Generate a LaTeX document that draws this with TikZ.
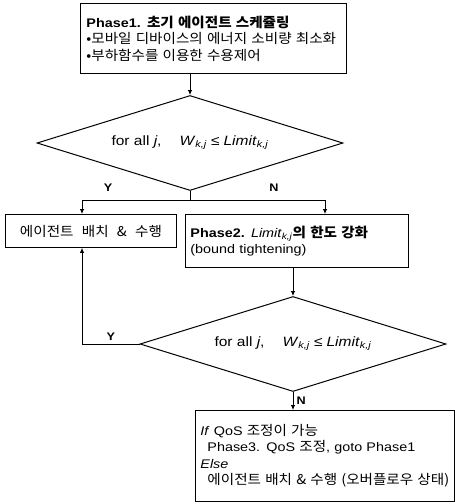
\documentclass[tikz,border=0pt]{standalone}
\usepackage{fontspec}
\setmainfont{Liberation Sans}[FakeStretch=1.15]
\newfontfamily\krfont{Noto Sans CJK KR}[FakeStretch=1.08]
\newcommand{\ko}[1]{{\krfont\fontsize{13.5}{16.5}\selectfont #1}}
\newcommand{\cond}{for all \textit{j},\hspace{18pt}\textit{W}\textsubscript{\textit{k,j}}\hspace{4pt}≤\hspace{4pt}\textit{Limit}\textsubscript{\textit{k,j}}}
\usetikzlibrary{shapes.geometric,arrows.meta}

\begin{document}
\begin{tikzpicture}[x=1pt,y=-1pt,
  box/.style={draw,line width=0.9pt,inner ysep=0pt,anchor=north west,align=left,font=\fontsize{12.5}{16.5}\selectfont},
  test/.style={draw,diamond,line width=1pt,minimum width=306pt,minimum height=95pt,inner sep=0pt},
  cond/.style={font=\fontsize{13.5}{16}\selectfont},
  arr/.style={line width=0.8pt,-{Latex[length=5pt,width=4.5pt]}},
  lbl/.style={font=\bfseries\fontsize{11}{12}\selectfont}]
\useasboundingbox (0,0) rectangle (455,504);

% boxes
\node[box,inner xsep=6pt,text width=254pt,minimum height=70pt] (phase1) at (80,3)
  {\mbox{\textbf{Phase1. \ko{\bfseries 초기 에이전트 스케쥴링}}}\\
   \mbox{\ko{•모바일 디바이스의 에너지 소비량 최소화}}\\
   \mbox{\ko{•부하함수를 이용한 수용제어}}};
\node[test,label={[cond]center:\cond}] (test1) at (190,143) {};
\node[box,inner xsep=0pt,minimum width=171pt,minimum height=33pt] (place) at (5,214)
  {\ko{에이전트\hspace{5pt} 배치\hspace{5pt} \&\hspace{5pt} 수행}};
\node[box,inner xsep=5pt,text width=213pt,minimum height=53pt] (tight) at (185,214)
  {\mbox{\textbf{Phase2.} \textit{Limit}\textsubscript{\textit{k,j}}\ko{\bfseries 의 한도 강화}}\\
   (bound tightening)};
\node[test,label={[cond]center:\cond}] (test2) at (293,344) {};
\node[box,inner xsep=5pt,text width=249pt,minimum height=91pt] (final) at (195,410)
  {\mbox{\textit{If} QoS \ko{조정이 가능}}\\
   \mbox{\hspace*{7pt}Phase3. QoS \ko{조정}, goto Phase1}\\
   \textit{Else}\\
   \mbox{\hspace*{7pt}\ko{에이전트 배치 \& 수행 (오버플로우 상태)}}};

% connectors
\coordinate (ysplit) at (82,200);
\coordinate (nsplit) at (325,200);
\draw[arr] (phase1.south -| test1.north) -- (test1.north);
\draw[line width=0.8pt] (test1.south) -- (test1.south |- ysplit);
\draw[line width=0.8pt] (ysplit) -- (nsplit);
\draw[arr] (ysplit) -- (ysplit |- place.north);
\draw[arr] (nsplit) -- (nsplit |- tight.north);
\node[lbl] (y1) at (108,188) {Y};
\node[lbl] (n1) at (274,188) {N};
\draw[arr] (tight.south -| test2.north) -- (test2.north);
\draw[arr] (test2.west) -| node[lbl,pos=0.25,above] (y2) {Y} (ysplit |- place.south);
\draw[arr] (test2.south) -- node[lbl,right] (n2) {N} (test2.south |- final.north);
\end{tikzpicture}
\end{document}
